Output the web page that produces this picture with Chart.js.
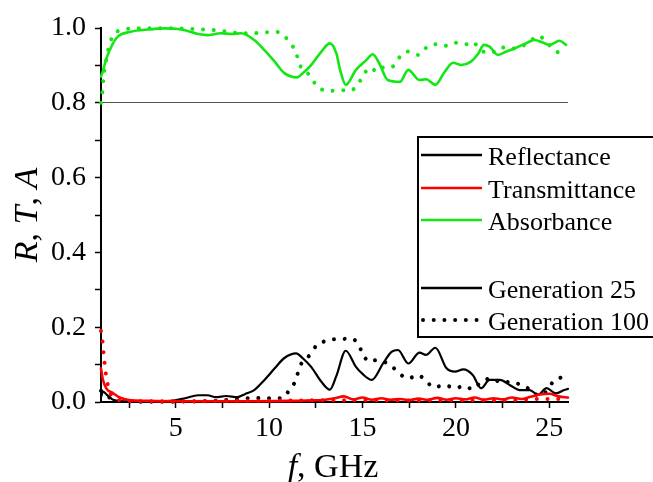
<!DOCTYPE html>
<html>
<head>
<meta charset="utf-8">
<script src="https://cdn.jsdelivr.net/npm/chart.js@4/dist/chart.umd.min.js"></script>
<style>
html,body{margin:0;padding:0;background:#fff;}
#wrap{width:653px;height:482px;position:relative;}
canvas{display:block;}
</style>
</head>
<body>
<div id="wrap"><canvas id="c" width="653" height="482"></canvas></div>
<script>
// ---- Data ----
const freqR25 = [1.0, 1.1, 1.3, 1.65, 2.2, 3.0, 4.0, 4.9, 5.5, 6.2, 6.7, 7.15, 7.7, 8.3, 8.7, 9.2, 9.75, 10.3, 10.8, 11.45, 11.8, 12.25, 12.8, 13.25, 13.6, 14.1, 14.65, 15.0, 15.5, 16.1, 16.55, 16.9, 17.45, 18.05, 18.4, 18.9, 19.5, 19.95, 20.4, 20.9, 21.35, 21.8, 22.35, 22.9, 23.4, 23.95, 24.4, 24.85, 25.35, 25.8, 26.0];
const refl25 = [0.012, 0.028, 0.02, 0.006, 0.002, 0.002, 0.002, 0.004, 0.01, 0.018, 0.018, 0.013, 0.016, 0.013, 0.021, 0.032, 0.059, 0.09, 0.117, 0.13, 0.117, 0.094, 0.054, 0.033, 0.07, 0.137, 0.094, 0.075, 0.059, 0.103, 0.134, 0.139, 0.103, 0.132, 0.126, 0.145, 0.09, 0.081, 0.087, 0.072, 0.037, 0.059, 0.059, 0.045, 0.032, 0.032, 0.019, 0.037, 0.023, 0.032, 0.035];

const freqR100 = [1.0, 1.2, 1.5, 2.0, 3.0, 5.0, 7.0, 8.5, 9.2, 9.7, 10.3, 10.75, 11.1, 11.45, 11.6, 12.2, 12.55, 12.9, 13.3, 13.85, 14.3, 14.75, 15.0, 15.35, 15.75, 16.1, 16.5, 16.95, 17.45, 17.95, 18.4, 18.8, 19.4, 19.95, 20.45, 20.9, 21.35, 21.9, 22.45, 22.95, 23.5, 23.95, 24.5, 24.9, 25.2, 25.75];
const refl100 = [0.03, 0.025, 0.01, 0.003, 0.001, 0.001, 0.003, 0.008, 0.011, 0.010, 0.010, 0.011, 0.034, 0.061, 0.09, 0.127, 0.152, 0.161, 0.168, 0.168, 0.170, 0.157, 0.13, 0.108, 0.112, 0.108, 0.099, 0.077, 0.063, 0.072, 0.057, 0.039, 0.045, 0.037, 0.043, 0.034, 0.054, 0.063, 0.052, 0.054, 0.045, 0.034, 0.016, 0.032, 0.054, 0.068];

const freqT25 = [1.0, 1.1, 1.3, 1.6, 2.0, 2.5, 3.5, 5.0, 7.0, 9.0, 11.0, 12.0, 13.0, 13.5, 14.0, 14.5, 15.0, 15.5, 16.0, 16.5, 17.0, 17.5, 18.0, 18.5, 19.0, 19.5, 20.0, 20.5, 21.0, 21.5, 22.0, 22.5, 23.0, 23.5, 24.0, 24.5, 25.0, 25.5, 26.0];
const trans25 = [0.09, 0.06, 0.035, 0.025, 0.012, 0.005, 0.003, 0.002, 0.002, 0.002, 0.003, 0.004, 0.006, 0.01, 0.015, 0.007, 0.012, 0.006, 0.01, 0.006, 0.008, 0.005, 0.009, 0.006, 0.011, 0.006, 0.01, 0.007, 0.012, 0.006, 0.01, 0.007, 0.012, 0.008, 0.014, 0.02, 0.022, 0.015, 0.012];

const freqT100 = [1.0, 1.05, 1.1, 1.16, 1.22, 1.3, 1.45, 1.7, 2.2, 3.0, 5.0, 8.0, 11.0, 14.0, 17.0, 20.0, 23.0, 24.5, 25.5, 26.0];
const trans100 = [0.19, 0.18, 0.15, 0.12, 0.09, 0.063, 0.03, 0.01, 0.004, 0.002, 0.002, 0.003, 0.004, 0.005, 0.004, 0.005, 0.005, 0.008, 0.008, 0.006];

const freqA25 = [1.0, 1.1, 1.3, 1.6, 1.9, 2.6, 3.5, 4.4, 5.3, 6.2, 6.7, 7.4, 8.0, 8.5, 9.2, 9.75, 10.3, 10.8, 11.5, 11.8, 12.25, 12.8, 13.25, 13.6, 13.8, 14.1, 14.65, 15.2, 15.55, 15.9, 16.35, 17.0, 17.45, 18.05, 18.4, 18.9, 19.4, 19.85, 20.3, 20.8, 21.2, 21.5, 21.8, 22.25, 22.7, 23.25, 23.75, 24.2, 24.65, 25.0, 25.55, 25.9];
const absorb25 = [0.87, 0.885, 0.92, 0.955, 0.977, 0.99, 0.996, 0.999, 0.996, 0.984, 0.981, 0.986, 0.984, 0.986, 0.968, 0.941, 0.91, 0.88, 0.868, 0.879, 0.901, 0.937, 0.959, 0.932, 0.888, 0.848, 0.888, 0.914, 0.93, 0.905, 0.861, 0.856, 0.888, 0.861, 0.863, 0.848, 0.883, 0.907, 0.901, 0.91, 0.932, 0.955, 0.95, 0.928, 0.937, 0.948, 0.959, 0.968, 0.961, 0.955, 0.966, 0.955];

const freqA100 = [1.0, 1.05, 1.1, 1.2, 1.3, 1.4, 1.6, 2.2, 3.0, 4.0, 5.0, 5.6, 6.2, 6.8, 7.4, 8.0, 8.5, 9.1, 9.7, 10.3, 10.7, 11.1, 11.45, 11.6, 12.2, 12.55, 12.9, 13.3, 13.8, 14.3, 14.7, 15.0, 15.4, 15.8, 16.2, 16.6, 17.0, 17.4, 18.0, 18.3, 18.8, 19.4, 19.9, 20.5, 20.9, 21.3, 21.9, 22.4, 23.0, 23.5, 24.0, 24.4, 24.8, 25.2, 25.8];
const absorb100 = [0.80, 0.816, 0.848, 0.893, 0.92, 0.945, 0.975, 0.996, 0.999, 0.999, 0.999, 0.998, 0.997, 0.995, 0.993, 0.988, 0.986, 0.986, 0.988, 0.990, 0.984, 0.961, 0.934, 0.906, 0.872, 0.845, 0.834, 0.832, 0.834, 0.832, 0.845, 0.87, 0.894, 0.883, 0.897, 0.897, 0.923, 0.937, 0.928, 0.943, 0.957, 0.952, 0.961, 0.956, 0.963, 0.941, 0.934, 0.948, 0.945, 0.95, 0.966, 0.979, 0.966, 0.943, 0.928];

const xTickValues = [2.5, 5, 7.5, 10, 12.5, 15, 17.5, 20, 22.5, 25];
const xTickLabels = ['5', '10', '15', '20', '25'];
const yTickLabels = ['0.0', '0.2', '0.4', '0.6', '0.8', '1.0'];
const quantityLabels = ['Reflectance', 'Transmittance', 'Absorbance'];
const generationLabels = ['Generation 25', 'Generation 100'];

// ---- Styles ----
const BLACK = '#000000', RED = '#ff0000', GREEN = '#14e614';
const SERIF = '"Liberation Serif", "Times New Roman", serif';

const pts = (xs, ys) => xs.map((x, i) => ({x: x, y: ys[i]}));
const solid = (label, xs, ys, color, w) => ({
  label, data: pts(xs, ys), borderColor: color, backgroundColor: color,
  borderWidth: w, pointRadius: 0, fill: false, cubicInterpolationMode: 'monotone',
  borderCapStyle: 'round', borderJoinStyle: 'round', clip: false
});
const dotted = (label, xs, ys, color) => ({
  label, data: pts(xs, ys), borderColor: color, backgroundColor: color,
  borderWidth: 4, borderDash: [0.01, 10.7], borderCapStyle: 'round',
  pointRadius: 0, fill: false, cubicInterpolationMode: 'monotone', clip: false
});

const datasets = [
  solid('Absorbance, Generation 25', freqA25, absorb25, GREEN, 2.6),
  dotted('Absorbance, Generation 100', freqA100, absorb100, GREEN),
  solid('Transmittance, Generation 25', freqT25, trans25, RED, 2.6),
  dotted('Transmittance, Generation 100', freqT100, trans100, RED),
  solid('Reflectance, Generation 25', freqR25, refl25, BLACK, 2.2),
  dotted('Reflectance, Generation 100', freqR100, refl100, BLACK)
];

function drawRuns(ctx, runs, x, y, align) {
  let total = 0;
  runs.forEach(r => { ctx.font = r[1]; total += ctx.measureText(r[0]).width; });
  let cx = align === 'center' ? x - total / 2 : x;
  ctx.textAlign = 'left';
  runs.forEach(r => { ctx.font = r[1]; ctx.fillText(r[0], cx, y); cx += ctx.measureText(r[0]).width; });
}

const overlay = {
  id: 'overlay',
  afterDraw(chart) {
    const ctx = chart.ctx;
    const it = 'italic 34px ' + SERIF, rg = '34px ' + SERIF;
    ctx.save();
    ctx.fillStyle = '#000';
    ctx.textBaseline = 'alphabetic';
    // y title
    ctx.save();
    ctx.translate(37, 215);
    ctx.rotate(-Math.PI / 2);
    drawRuns(ctx, [['R', it], [', ', rg], ['T', it], [', ', rg], ['A', it]], 0, 0, 'center');
    ctx.restore();
    // x title
    drawRuns(ctx, [['f', it], [', GHz', rg]], 333, 477, 'center');

    // legend box
    ctx.lineWidth = 2;
    ctx.strokeStyle = '#000';
    ctx.strokeRect(418, 137, 300, 200);
    const x0 = 421, x1 = 482, tx = 488;
    const rows = [
      {y: 155, color: BLACK, dot: false, text: quantityLabels[0]},
      {y: 188, color: RED, dot: false, text: quantityLabels[1]},
      {y: 220, color: GREEN, dot: false, text: quantityLabels[2]},
      {y: 288, color: BLACK, dot: false, text: generationLabels[0]},
      {y: 320, color: BLACK, dot: true, text: generationLabels[1]}
    ];
    ctx.font = '26px ' + SERIF;
    rows.forEach(r => {
      ctx.save();
      ctx.strokeStyle = r.color;
      ctx.beginPath();
      if (r.dot) {
        ctx.lineWidth = 4; ctx.lineCap = 'round'; ctx.setLineDash([0.01, 10.7]);
        ctx.moveTo(x0 + 2, r.y); ctx.lineTo(x1, r.y);
      } else {
        ctx.lineWidth = 2.6; ctx.lineCap = 'butt';
        ctx.moveTo(x0, r.y); ctx.lineTo(x1, r.y);
      }
      ctx.stroke();
      ctx.restore();
      ctx.fillStyle = '#000';
      ctx.textAlign = 'left';
      ctx.fillText(r.text, tx, r.y + 9.5);
    });
    ctx.restore();
  }
};

new Chart(document.getElementById('c'), {
  type: 'line',
  data: { datasets },
  options: {
    responsive: false,
    animation: false,
    devicePixelRatio: 1,
    layout: { padding: { left: 0, right: 85, top: 28, bottom: 0 } },
    plugins: { legend: { display: false }, tooltip: { enabled: false } },
    elements: { line: { tension: 0.4 } },
    scales: {
      x: {
        type: 'linear', min: 1, max: 26,
        afterFit: s => { s.height = 80; },
        afterBuildTicks: s => { s.ticks = xTickValues.map(v => ({ value: v })); },
        border: { display: true, color: '#000', width: 2 },
        grid: { display: true, drawOnChartArea: false, drawTicks: true, tickLength: 6, tickColor: '#000', tickWidth: 1.5 },
        ticks: {
          autoSkip: false, maxRotation: 0,
          padding: 4, color: '#000', font: { family: SERIF, size: 28 },
          callback: v => { const s = String(v); return xTickLabels.indexOf(s) >= 0 ? s : ''; }
        }
      },
      y: {
        type: 'linear', min: 0, max: 1,
        afterFit: s => { s.width = 101; },
        border: { display: true, color: '#000', width: 2 },
        grid: {
          display: true, drawOnChartArea: true, drawTicks: true, tickLength: 6,
          tickColor: '#000', tickWidth: 1.5, lineWidth: 1,
          color: c => (c.tick && Math.abs(c.tick.value - 0.8) < 1e-6) ? '#555555' : 'rgba(0,0,0,0)'
        },
        ticks: {
          stepSize: 0.1, autoSkip: false, padding: 9, color: '#000',
          font: { family: SERIF, size: 28 },
          callback: v => { const s = Number(v).toFixed(1); return yTickLabels.indexOf(s) >= 0 ? s : ''; }
        }
      }
    }
  },
  plugins: [overlay]
});
</script>
</body>
</html>
